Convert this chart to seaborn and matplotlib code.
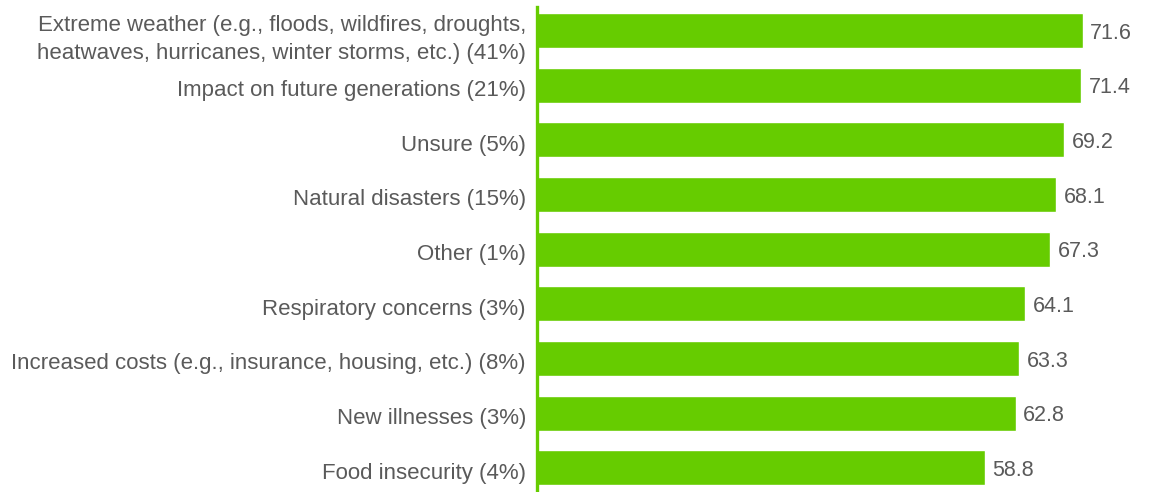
import matplotlib
matplotlib.use("Agg")
import matplotlib.pyplot as plt
import matplotlib.transforms as mtransforms
import seaborn as sns
import pandas as pd

categories = [
    "Extreme weather (e.g., floods, wildfires, droughts,\nheatwaves, hurricanes, winter storms, etc.) (41%)",
    "Impact on future generations (21%)",
    "Unsure (5%)",
    "Natural disasters (15%)",
    "Other (1%)",
    "Respiratory concerns (3%)",
    "Increased costs (e.g., insurance, housing, etc.) (8%)",
    "New illnesses (3%)",
    "Food insecurity (4%)",
]
scores = [71.6, 71.4, 69.2, 68.1, 67.3, 64.1, 63.3, 62.8, 58.8]

df = pd.DataFrame({"category": categories, "score": scores})

sns.set_style("white")
plt.rcParams["font.family"] = ["Liberation Sans", "DejaVu Sans"]

bar_color = "#66cc00"
text_color = "#5a5a5a"

fig = plt.figure(figsize=(11.5, 4.92), dpi=100)
ax = fig.add_axes([0.467, 0.005, 0.53, 0.98])

sns.barplot(data=df, y="category", x="score", orient="h", color=bar_color,
            width=0.64, saturation=1, ax=ax)

for i, v in enumerate(scores):
    ax.text(v + 1.0, i + 0.05, f"{v:.1f}", va="center", ha="left",
            fontsize=15.5, color=text_color)

ax.set_xlim(0, 80)
ax.set_ylim(8.4, -0.42)
ax.set_xlabel("")
ax.set_ylabel("")
ax.set_xticks([])
ax.tick_params(axis="y", length=0, pad=8, labelsize=16, labelcolor=text_color)

# nudge the category labels down a touch, like the original
shift = mtransforms.ScaledTranslation(0, -3 / 100, fig.dpi_scale_trans)
for lab in ax.get_yticklabels():
    lab.set_linespacing(1.45)
    lab.set_transform(lab.get_transform() + shift)

for side in ["top", "right", "bottom"]:
    ax.spines[side].set_visible(False)
ax.spines["left"].set_color(bar_color)
ax.spines["left"].set_linewidth(2.4)

fig.savefig("out.png", dpi=100)
